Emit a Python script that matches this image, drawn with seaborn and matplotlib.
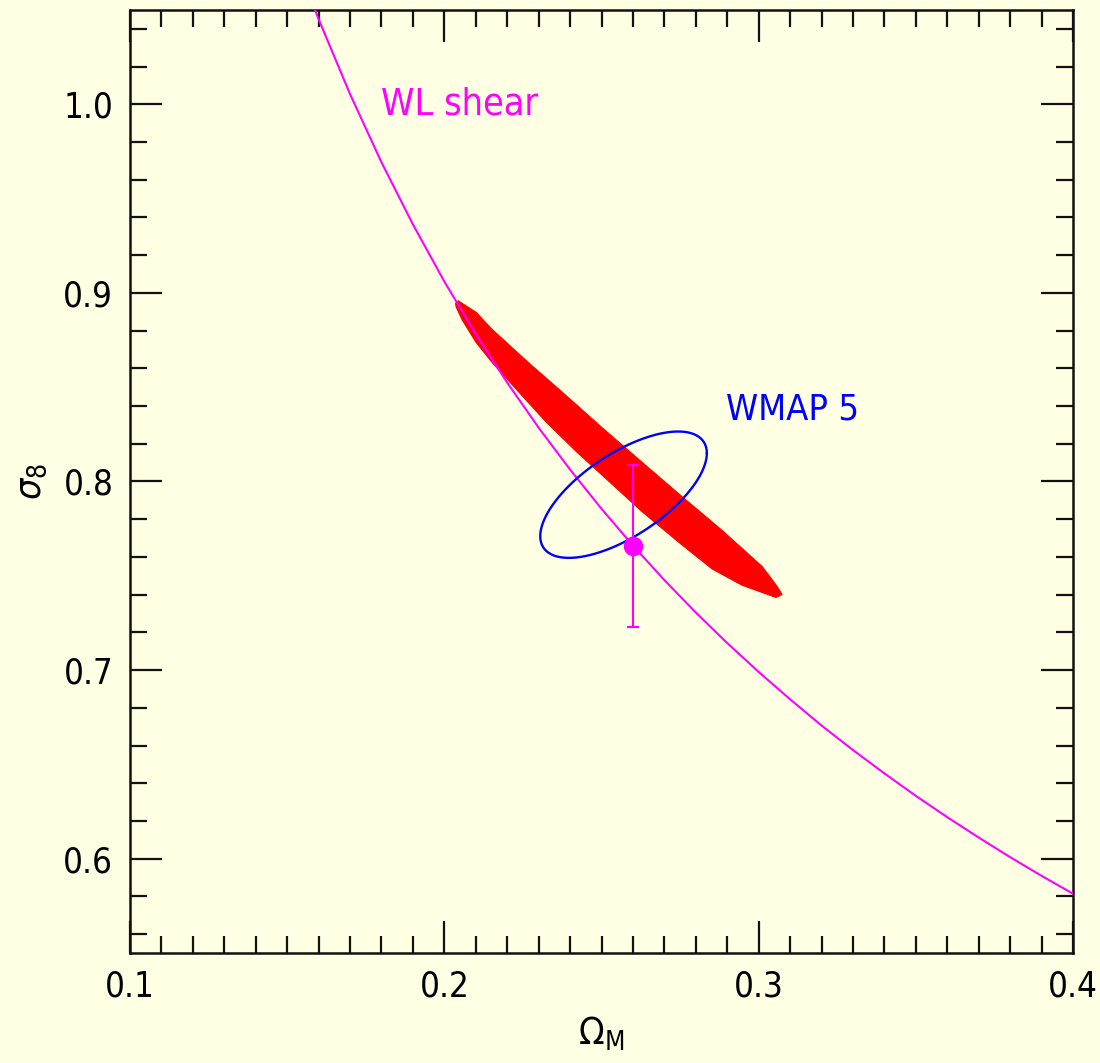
import numpy as np
import pandas as pd
import seaborn as sns
from matplotlib import pyplot as plt

# weak lensing shear degeneracy line
wl_om = [0.155, 0.16, 0.17, 0.18, 0.19, 0.20, 0.21, 0.22, 0.23, 0.24, 0.25, 0.26,
         0.27, 0.28, 0.29, 0.30, 0.31, 0.32, 0.33, 0.34, 0.35, 0.36, 0.37, 0.38,
         0.39, 0.40]
wl_s8 = [1.0666, 1.0451, 1.0054, 0.9692, 0.9363, 0.9060, 0.8782, 0.8524, 0.8285,
         0.8063, 0.7855, 0.7660, 0.7477, 0.7305, 0.7143, 0.6990, 0.6845, 0.6706,
         0.6576, 0.6452, 0.6333, 0.6220, 0.6112, 0.6008, 0.5909, 0.5814]

# filled red region, upper edge then lower edge
blob_om = [0.2036, 0.2044, 0.2101, 0.2152, 0.2269, 0.2374, 0.2502, 0.2642, 0.2756,
           0.2884, 0.3011, 0.3059, 0.3074,
           0.3055, 0.2947, 0.2852, 0.2747, 0.2629, 0.2524, 0.2419, 0.2324,
           0.2238, 0.2152, 0.2101, 0.2056, 0.2037]
blob_s8 = [0.8945, 0.8958, 0.8897, 0.8806, 0.8628, 0.8475, 0.8285, 0.8083, 0.7920,
           0.7740, 0.7549, 0.7443, 0.7401,
           0.7385, 0.7450, 0.7536, 0.7676, 0.7840, 0.8000, 0.8160, 0.8315,
           0.8472, 0.8631, 0.8737, 0.8859, 0.8928]

# WMAP 5 contour: centre, half extents in x and y, phase between them (deg)
wmap_om_c, wmap_s8_c = 0.257, 0.793
wmap_om_half, wmap_s8_half = 0.0265, 0.0335
wmap_phase = 49.0

# data point with error bar
pt_om = [0.26]
pt_s8 = [0.766]
pt_err = [0.043]

bg = '#FFFFE4'
sns.set_theme(style='ticks')
plt.rcParams['font.family'] = ['DejaVu Sans']
plt.rcParams['font.stretch'] = 'condensed'
plt.rcParams['mathtext.fontset'] = 'dejavusans'
plt.rcParams['text.color'] = 'black'
plt.rcParams['xtick.labelcolor'] = 'black'
plt.rcParams['ytick.labelcolor'] = 'black'
plt.rcParams['axes.labelcolor'] = 'black'

fig, ax = plt.subplots(figsize=(11, 10.63), dpi=100)
fig.patch.set_facecolor(bg)
ax.set_facecolor(bg)
fig.subplots_adjust(left=0.1182, right=0.9755, top=0.9906, bottom=0.1035)

ax.fill(blob_om, blob_s8, color='#FF0000', lw=0.8, ec='#FF0000', zorder=2)

wl = pd.DataFrame({'om': wl_om, 's8': wl_s8})
sns.lineplot(data=wl, x='om', y='s8', color='#FF00FF', lw=1.5, sort=False, ax=ax, zorder=3)

t = np.radians(np.linspace(0, 360, 200))
ell_x = wmap_om_c + wmap_om_half * np.cos(t)
ell_y = wmap_s8_c + wmap_s8_half * np.cos(t - np.radians(wmap_phase))
ax.plot(ell_x, ell_y, color='#0000FF', lw=1.7, zorder=4)

ax.errorbar(pt_om, pt_s8, yerr=pt_err, fmt='o', color='#FF00FF', ms=13,
            capsize=4, elinewidth=1.5, capthick=1.5, zorder=5)

ax.text(0.180, 1.0, 'WL shear', color='#FF00FF', fontsize=27, va='center', ha='left')
ax.text(0.2895, 0.838, 'WMAP 5', color='#0000FF', fontsize=26, va='center', ha='left')

ax.set_xlim(0.1, 0.4)
ax.set_ylim(0.55, 1.05)
ax.set_xticks([0.1, 0.2, 0.3, 0.4])
ax.set_xticklabels(['0.1', '0.2', '0.3', '0.4'])
ax.set_yticks([0.6, 0.7, 0.8, 0.9, 1.0])
ax.set_yticklabels(['0.6', '0.7', '0.8', '0.9', '1.0'])
ax.set_xticks(np.arange(0.1, 0.4001, 0.01), minor=True)
ax.set_yticks(np.arange(0.56, 1.0401, 0.02), minor=True)
ax.tick_params(which='both', direction='in', top=True, right=True, color='#111111',
               labelsize=25, pad=12)
ax.tick_params(which='major', length=23, width=1.6)
ax.tick_params(which='minor', length=12, width=1.6)
for s in ax.spines.values():
    s.set_linewidth(1.8)
    s.set_color('#111111')

ax.set_xlabel(r'$\Omega_{\mathrm{M}}$', fontsize=27, labelpad=8)
ax.set_ylabel(r'$\sigma_{8}$', fontsize=27, labelpad=10)

fig.savefig('out.png', dpi=100, facecolor=bg)
